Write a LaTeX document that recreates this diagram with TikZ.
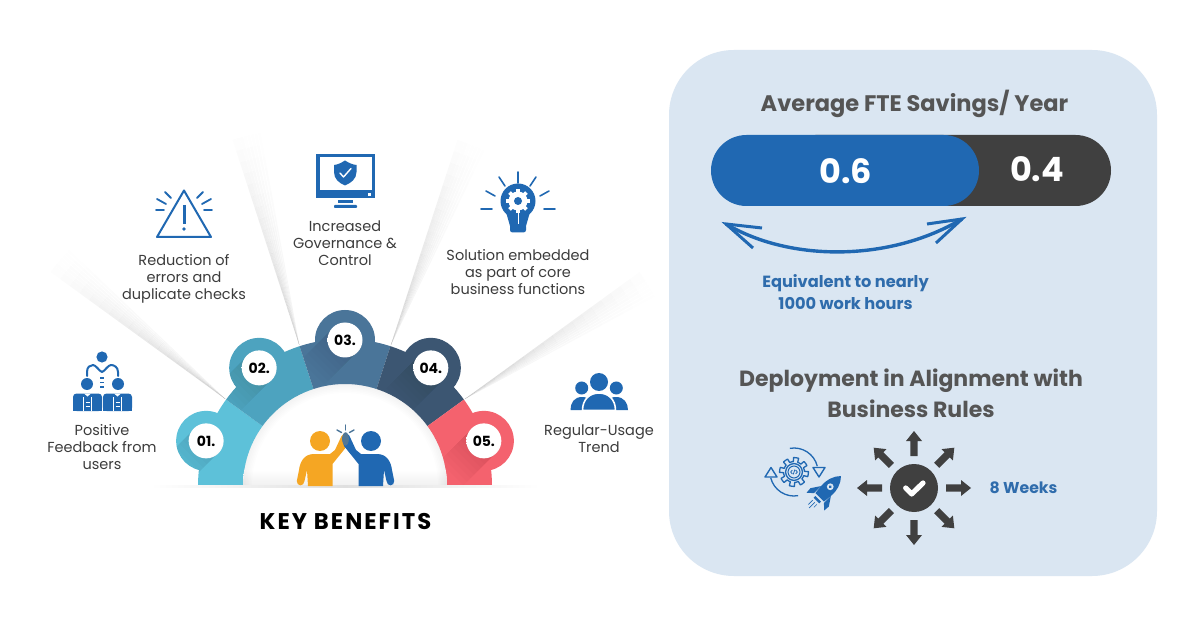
\documentclass[tikz,border=0pt]{standalone}
\usepackage{fontspec}
\usetikzlibrary{calc}
\setmainfont{Poppins}
\definecolor{iconblue}{HTML}{2068B2}
\definecolor{txtblue}{HTML}{2F6CAC}
\definecolor{panelbg}{HTML}{DAE6F2}
\definecolor{darkgray}{HTML}{404040}
\definecolor{titlegray}{HTML}{555555}
\definecolor{bodygray}{HTML}{3C3C3C}
\definecolor{secA}{HTML}{5DC1D9}
\definecolor{secB}{HTML}{4DA3BF}
\definecolor{secC}{HTML}{4A7599}
\definecolor{secD}{HTML}{3C5672}
\definecolor{secE}{HTML}{F4626E}
\definecolor{manorange}{HTML}{F5A623}
\newcommand\fsz[2]{\fontsize{#1}{#2}\selectfont}
\pgfdeclareradialshading{wball}{\pgfpoint{-9bp}{9bp}}{color(0bp)=(white);color(30bp)=(white);color(42bp)=(gray!18);color(62bp)=(gray!38);color(100bp)=(gray!38)}
\tikzset{
  bodytext/.style={font=\fsz{14.5}{17.2},text=bodygray,align=center,inner sep=0pt},
  numtext/.style={font=\fsz{14}{14}\bfseries,text=black,inner sep=0pt},
  icon/.style={fill=iconblue,draw=none},
  iconline/.style={draw=iconblue,line width=2pt,line cap=round,line join=round},
  panelhead/.style={font=\fsz{22}{31}\bfseries,text=titlegray,align=center,inner sep=0pt},
  bluetext/.style={font=\fsz{16.2}{22}\bfseries,text=txtblue,align=center,inner sep=0pt},
  bigval/.style={font=\fsz{33.5}{33.5}\bfseries,text=white,inner sep=0pt},
}
% fan: apex point at the ring, radial edge at parameter #1, opening clockwise
\newcommand\fan[1]{%
  \coordinate (fa) at ($(345,486)+(#1:147)$);
  \foreach \k in {0,...,7}{\foreach \j in {0,...,17}{%
    \pgfmathsetmacro\aa{#1+\k*1.0}%
    \pgfmathsetmacro\ab{#1+(\k+1)*0.96}%
    \pgfmathsetmacro\ra{\j*12+1}%
    \pgfmathsetmacro\rb{(\j+1)*12+1}%
    \pgfmathsetmacro\op{0.15*(1-\j/18)*(1-\k/10)}%
    \fill[black,opacity=\op]
      ($(fa)+(\aa:\ra)$) -- ($(fa)+(\aa:\rb)$) -- ($(fa)+(\ab:\rb)$) -- ($(fa)+(\ab:\ra)$) -- cycle;
  }}%
}
\newcommand\petal[4]{% start param, colour, label, node name
  \pgfmathsetmacro\tb{#1+36}\pgfmathsetmacro\tm{#1+18}%
  \fill[#2] ($(345,486)+(#1:147)$) arc[start angle=#1,end angle=\tb,radius=147]
     -- ($(345,486)+(\tb:102)$) arc[start angle=\tb,end angle=#1,radius=102] -- cycle;
  \coordinate (pc) at ($(345,486)+(\tm:146)$);
  \fill[#2] (pc) circle[radius=30];
  \begin{scope}
    \clip ($(345,486)+(#1:147)$) arc[start angle=#1,end angle=\tb,radius=147]
     -- ($(345,486)+(\tb:102)$) arc[start angle=\tb,end angle=#1,radius=102] -- cycle
     ($(pc)+(30,0)$) arc[start angle=0,end angle=360,radius=30];
    \foreach \L in {6,11,...,46}{
      \fill[black,opacity=.011] ($(pc)+(12,12)$) -- ($(pc)+(-12,-12)$) -- ($(pc)+(-12,-12)+(-.707*\L,.707*\L)$) -- ($(pc)+(12,12)+(-.707*\L,.707*\L)$) -- cycle;
    }
  \end{scope}
  \shade[shading=wball] (pc) circle[radius=17.5];
  \node[numtext] (#4) at (pc) {#3};
}
\newcommand\manshape{%
  (308,486) -- (332.5,486) -- (332.5,464) -- (347,446) -- (349,438) -- (345,432.5) -- (341.5,436) -- (335,450)
  -- (330,454) -- (314,454) .. controls (304,454) and (300,462) .. (299,470)
  -- (296.8,481) .. controls (296.5,486.5) and (304,487) .. (304.5,481) -- (307,470) -- cycle}
\begin{document}
\begin{tikzpicture}[x=1pt,y=-1pt]
\useasboundingbox (0,0) rectangle (1200,628);
\fill[white] (0,0) rectangle (1200,628);

% ---------- fans
\fan{-144}\fan{-108}\fan{-72}\fan{-36}

% ---------- ring
\petal{-180}{secA}{01.}{numA}
\petal{-144}{secB}{02.}{numB}
\petal{-108}{secC}{03.}{numC}
\petal{-72}{secD}{04.}{numD}
\petal{-36}{secE}{05.}{numE}

% inner soft shadow and floor
\begin{scope}
  \clip (243,486) arc[start angle=180,end angle=360,radius=102] -- cycle;
  \clip (243,486) rectangle (447,380);
  \shade[top color=white,bottom color=gray!12] (243,470) rectangle (447,486);
  \foreach \w in {3,6,...,18}{\draw[black,opacity=.006,line width=\w pt] (345,486) circle[radius=102];}
\end{scope}
\shade[left color=white,right color=gray!25] (150,485.6) rectangle (345,487.2);
\shade[left color=gray!25,right color=white] (345,485.6) rectangle (540,487.2);

% ---------- high five
\fill[manorange] (320,441) circle[radius=10];
\fill[manorange] \manshape;
\fill[iconblue] (371,441) circle[radius=10];
\begin{scope}[shift={(691,0)},xscale=-1]
  \fill[iconblue] \manshape;
\end{scope}
\fill[secC!85!gray] (345.5,439) ellipse[x radius=3.4,y radius=6.6];
\draw[secC,line width=1.4pt,line cap=round] (345.5,425) -- (345.5,430);
\draw[secC,line width=1.4pt,line cap=round] (337,430) -- (341.5,432.5);
\draw[secC,line width=1.4pt,line cap=round] (354,430) -- (349.5,432.5);

\node[inner sep=0pt,font=\fsz{22.7}{22.7}\bfseries\addfontfeatures{LetterSpace=9},text=black] (keyben) at (345.5,521) {KEY BENEFITS};

% ---------- left labels
\node[bodytext] (lblA) at (102,447) {Positive\\Feedback from\\users};
\node[bodytext] (lblB) at (184,279) {Reduction of\\errors and\\duplicate checks};
\node[bodytext] (lblC) at (345,243) {Increased\\Governance \&\\Control};
\node[bodytext] (lblD) at (518,272) {Solution embedded\\as part of core\\business functions};
\node[bodytext] (lblE) at (599,438.5) {Regular-Usage\\Trend};

% ---------- icon 01: hierarchy
\fill[iconblue] (102,357) circle[radius=5.6];
\fill[iconblue] (87,384) circle[radius=6];
\fill[iconblue] (118,384) circle[radius=6];
\draw[iconline] (87,376) -- (87,372) .. controls (87,367) and (90,365) .. (93,365) .. controls (96,365) and (99,371) .. (102,372) .. controls (105,371) and (108,365) .. (111,365) .. controls (114,365) and (118,367) .. (118,372) -- (118,376);
\foreach \y in {378,382.5,387}{\fill[iconblue] (100.2,\y-.9) rectangle (103.8,\y+.9);}
\foreach \xo in {73,103}{
  \fill[iconblue,rounded corners=3.5pt] (\xo,411) -- (\xo,393.5) -- (\xo+29,393.5) -- (\xo+29,411) -- cycle;
  \fill[iconblue] (\xo,408) rectangle (\xo+29,411);
  \fill[white] (\xo+11,393.5) -- (\xo+14.5,396.5) -- (\xo+18,393.5) -- cycle;
  \draw[white,line width=.6pt] (\xo+10.5,397) -- (\xo+10.5,411) (\xo+18.5,397) -- (\xo+18.5,411);
  \draw[white,line width=.8pt] (\xo+12.5,402) -- (\xo+16.5,402) (\xo+12.5,406) -- (\xo+16.5,406);
}

% ---------- icon 02: warning
\draw[iconline] (184,190.5) -- (157,237) -- (211,237) -- cycle;
\draw[iconblue,line width=3pt] (184,205) -- (184,224);
\fill[iconblue] (184,229) circle[radius=1.9];
\draw[iconline,line width=1.8pt] (156,210) -- (164,210) (157,199) -- (166,204) (165,192) -- (171,198)
  (204,210) -- (212,210) (202,204) -- (211,199) (197,198) -- (203,192);

% ---------- icon 03: monitor
\fill[iconblue] (316,154) rectangle (375,198);
\fill[white] (319.5,157.5) rectangle (371.5,190);
\fill[white] (367.5,193.5) rectangle (370.5,196);
\fill[iconblue] (338,200.5) rectangle (353,203);
\fill[iconblue,rounded corners=.8pt] (334,205) rectangle (357,208);
\fill[iconblue] (345,160.5) .. controls (349,163) and (352,164.5) .. (356.5,165) -- (356.5,172) .. controls (356.5,179) and (351,183) .. (345,185.5) .. controls (339,183) and (334,179) .. (334,172) -- (334,165) .. controls (338,164.5) and (341,163) .. (345,160.5) -- cycle;
\draw[white,line width=1.4pt,line cap=round,line join=round] (340,173) -- (343.5,177) -- (351,168.5);

% ---------- icon 04: bulb
\draw[iconline,line width=1.6pt] (518,172) -- (518,183) (499,177) -- (505,186) (536,177) -- (530,186)
  (486,191) -- (495,196) (549,191) -- (540,196) (481,209) -- (492,209) (544,209) -- (555,209);
\fill[iconblue] (518,201) circle[radius=17.5];
\fill[iconblue] (506,212) -- (510,226) -- (526,226) -- (530,212) -- cycle;
\fill[iconblue,rounded corners=2.5pt] (510,224) rectangle (526,232.5);
\fill[white] (518,201) circle[radius=9.5];
\foreach \t in {0,45,...,315}{\draw[white,line width=3.6pt] (518,201) -- ++(\t:12);}
\fill[iconblue] (518,201) circle[radius=4];
\draw[white,line width=1pt] (518,212) -- (518,224);

% ---------- icon 05: people
\fill[iconblue] (599,382) circle[radius=9];
\fill[iconblue] (581.7,388) circle[radius=6.5];
\fill[iconblue] (616.3,388) circle[radius=6.5];
\fill[iconblue] (570.5,410) .. controls (570.5,403) and (574,397) .. (582,397) .. controls (590,397) and (592,403) .. (592,410) -- cycle;
\fill[iconblue] (606,410) .. controls (606,403) and (608,397) .. (616,397) .. controls (624,397) and (628,403) .. (628,410) -- cycle;
\fill[iconblue,draw=white,line width=1.6pt] (582.5,410.5) .. controls (582.5,399) and (590,393) .. (599,393) .. controls (608,393) and (615.5,399) .. (615.5,410.5) -- cycle;

% ---------- right panel
\fill[panelbg,rounded corners=65pt] (669,50) rectangle (1157,576);
\node[panelhead,font=\fsz{22.5}{31}\bfseries] (avgtitle) at (914.5,104) {Average FTE Savings/ Year};
\fill[darkgray,rounded corners=35.5pt] (780,135) rectangle (1111,206);
\fill[iconblue,rounded corners=35.5pt] (711,135) rectangle (979,206);
\node[bigval] (valsix) at (846,171) {0.6};
\node[bigval] (valfour) at (1037,169) {0.4};

\coordinate (arrL) at (726,224);
\coordinate (arrR) at (962,219);
\draw[iconblue,line width=3.4pt] (arrL) .. controls (790,262) and (890,262) .. (arrR);
\draw[iconblue,line width=3pt] (762,228) -- (arrL) -- (753,248);
\draw[iconblue,line width=3pt] (927,224) -- (arrR) -- (936,243);
\node[bluetext] (equiv) at (845.5,292.5) {Equivalent to nearly\\1000 work hours};

\node[panelhead] (deploy) at (911,393.5) {Deployment in Alignment with\\Business Rules};

% check with arrows
\fill[darkgray] (914,488) circle[radius=24];
\draw[white,line width=5.2pt,line cap=round,line join=round] (905.7,488) -- (911.7,494) -- (923,483);
\foreach \t in {0,45,...,315}{
  \begin{scope}[shift={(914,488)},rotate=\t]
    \fill[darkgray] (32,-3.6) -- (47,-3.6) -- (47,-8) -- (57,0) -- (47,8) -- (47,3.6) -- (32,3.6) -- cycle;
  \end{scope}
}
\node[inner sep=0pt,font=\fsz{15.7}{15.7}\bfseries,text=txtblue] (weeks) at (1023.5,488) {8 Weeks};

% gear, cycle arrows, rocket
\draw[iconblue,line width=1.3pt,line join=round] plot[samples=193,domain=0:360,shift={(794,472)}] (\x:{12.4+2*(sin(8*\x+22)>0?1:-1)}) -- cycle;
\draw[iconblue,line width=1.3pt] (794,472) circle[radius=8.4];
\draw[iconblue,line width=1pt] (794,472) circle[radius=6];
\draw[iconblue,line width=.8pt] (792.3,470.2) -- (790.6,472) -- (792.3,473.8) (795.7,470.2) -- (797.4,472) -- (795.7,473.8) (794.8,469.6) -- (793.2,474.4);
\draw[iconblue,line width=1.3pt] ($(794,472)+(-100:24)$) arc[start angle=-100,end angle=-14,radius=24];
\draw[iconblue,line width=1.3pt] ($(794,472)+(80:24)$) arc[start angle=80,end angle=166,radius=24];
\draw[iconblue,line width=1.4pt,line join=round] (813,467.5) -- (825,467.5) -- (819,477) -- cycle;
\draw[iconblue,line width=1.4pt,line join=round] (765,477) -- (777,477) -- (771,467.5) -- cycle;
\begin{scope}[shift={(826,491)},rotate=-45]
  \fill[iconblue] (0,-21) .. controls (6,-15) and (7.5,-8) .. (7,0) -- (6,9) -- (-6,9) -- (-7,0) .. controls (-7.5,-8) and (-6,-15) .. (0,-21) -- cycle;
  \fill[iconblue] (-7,0) -- (-13,9) -- (-12.5,15) -- (-7,10) -- cycle;
  \fill[iconblue] (7,0) -- (13,9) -- (12.5,15) -- (7,10) -- cycle;
  \fill[panelbg] (0,-6) circle[radius=3.4];
  \fill[iconblue] (0,-6) circle[radius=1.6];
  \fill[iconblue] (-4,11) rectangle (4,13.5);
  \draw[iconblue,line width=.7pt] (-3,16) -- (-3,22) (0,16) -- (0,24) (3,16) -- (3,20);
\end{scope}
\end{tikzpicture}
\end{document}
